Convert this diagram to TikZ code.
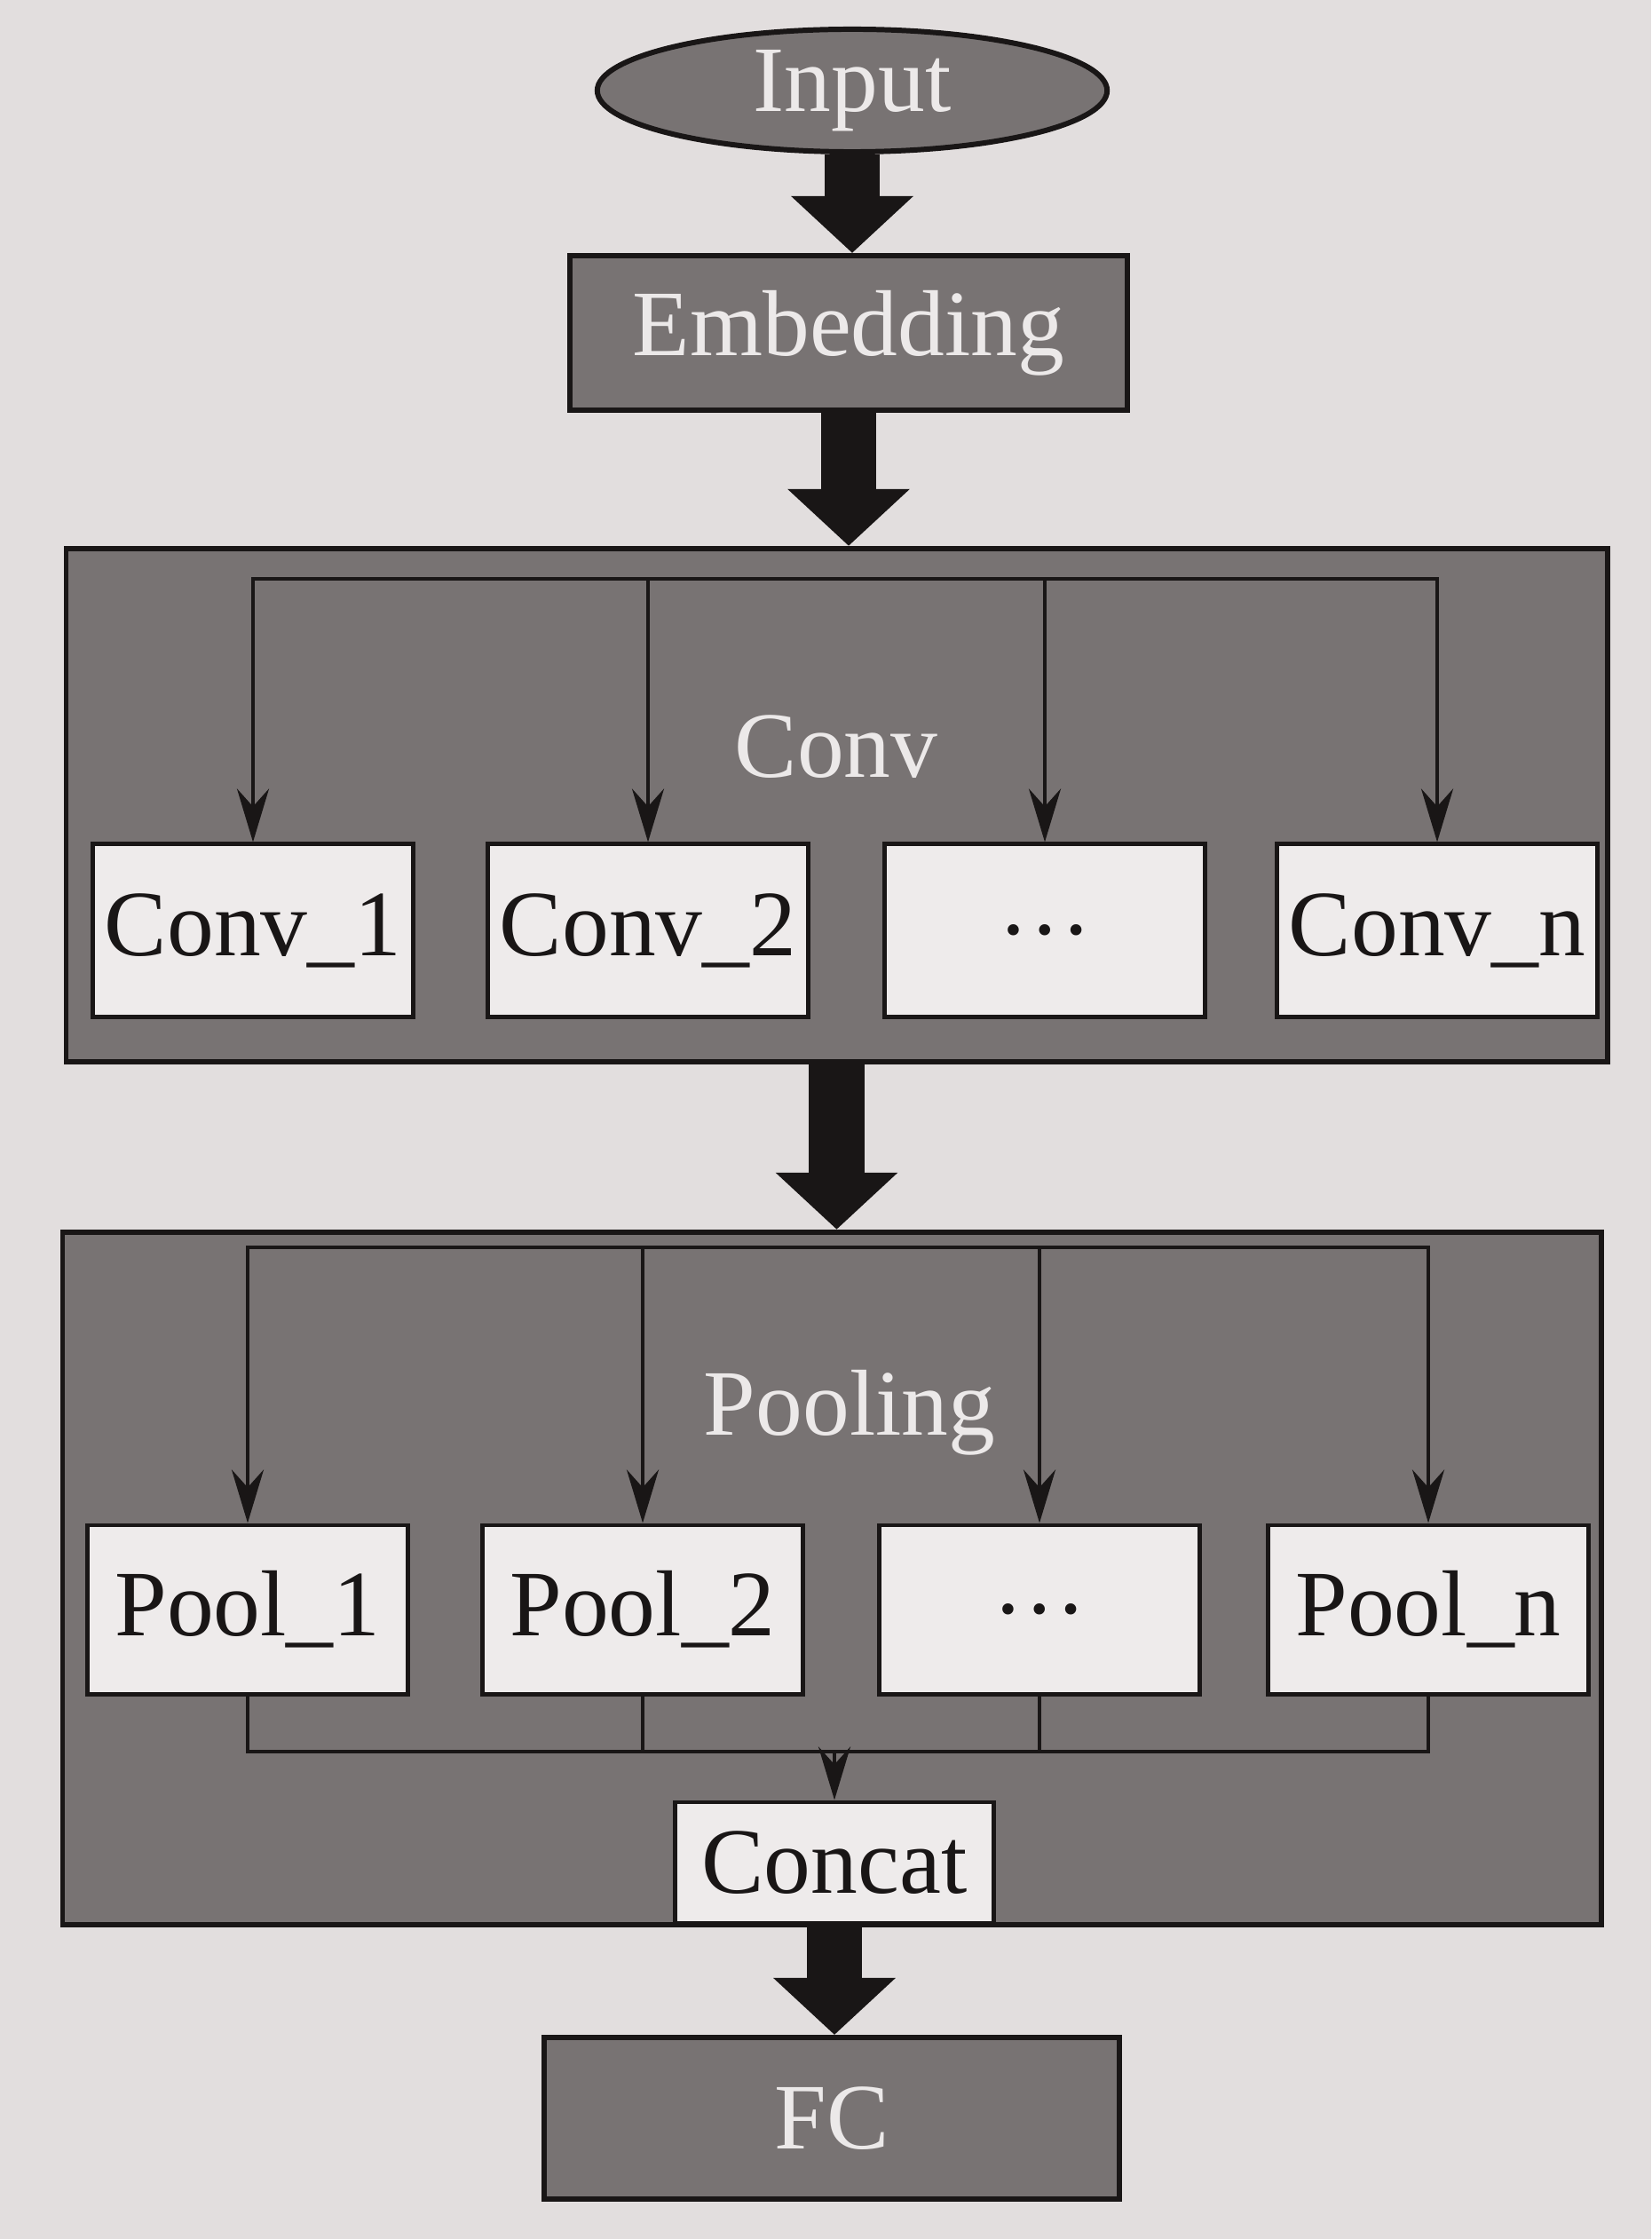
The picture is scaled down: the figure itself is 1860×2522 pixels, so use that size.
\documentclass[tikz,border=0pt]{standalone}
\usepackage{fontspec}
\setmainfont{Liberation Serif}
\usetikzlibrary{arrows.meta,shapes.geometric}
\definecolor{paper}{RGB}{226,222,222}
\definecolor{darkfill}{RGB}{120,115,115}
\definecolor{lightbox}{RGB}{238,235,235}
\definecolor{ink}{RGB}{25,22,22}
\definecolor{paletext}{RGB}{236,233,233}
\begin{document}
\begin{tikzpicture}[x=0.01cm,y=-0.01cm,
  font=\fontsize{30}{36}\selectfont,
  darkbox/.style={draw=ink, line width=1.7pt, fill=darkfill, text=paletext, rectangle, inner sep=0pt},
  lightnode/.style={draw=ink, line width=1.4pt, fill=lightbox, text=ink, rectangle, inner sep=0pt, minimum width=3.6cm, minimum height=1.94cm},
  biglabel/.style={text=paletext, anchor=base, inner sep=0pt},
  bigarrow/.style={line width=0.62cm, draw=ink, -{Triangle[length=0.64cm,width=1.34cm]}},
  thinarrow/.style={line width=1.2pt, draw=ink, line cap=rect, -{Stealth[length=0.6cm,width=0.36cm,inset=0.2cm]}},
  thinline/.style={line width=1.2pt, draw=ink, line cap=rect},
]
\fill[paper] (0,0) rectangle (1860,2522);
\useasboundingbox (0,0) rectangle (1860,2522);

% main column
\node[darkbox, ellipse, minimum width=5.74cm, minimum height=1.38cm] (input) at (960,102) {Input};
\node[darkbox, minimum width=6.28cm, minimum height=1.74cm] (embed) at (956,375) {Embedding};
\node[darkbox, minimum width=17.35cm, minimum height=5.78cm] (conv) at (942.5,907) {};
\node[darkbox, minimum width=17.32cm, minimum height=7.80cm] (pool) at (937,1778) {};
\node[darkbox, minimum width=6.48cm, minimum height=1.82cm] (fc) at (937,2386) {FC};

\node[biglabel] (convlabel) at (942,875) {Conv};
\node[biglabel] (poollabel) at (957,1616) {Pooling};

% conv branches
\node[lightnode] (c1) at (285,1048) {Conv\_1};
\node[lightnode] (c2) at (730,1048) {Conv\_2};
\node[lightnode] (c3) at (1177,1048) {…};
\node[lightnode] (cn) at (1619,1048) {Conv\_n};

% pool branches
\node[lightnode, minimum height=1.90cm] (p1) at (279,1813) {Pool\_1};
\node[lightnode, minimum height=1.90cm] (p2) at (724,1813) {Pool\_2};
\node[lightnode, minimum height=1.90cm] (p3) at (1171,1813) {…};
\node[lightnode, minimum height=1.90cm] (pn) at (1609,1813) {Pool\_n};

\node[lightnode, minimum width=3.59cm, minimum height=1.36cm] (concat) at (940,2098) {Concat};

% big arrows
\draw[bigarrow] (input.south) -- (input.south |- embed.north);
\draw[bigarrow] (embed.south) -- (embed.south |- conv.north);
\draw[bigarrow] (conv.south) -- (conv.south |- pool.north);
\draw[bigarrow] (concat.south) -- (concat.south |- fc.north);

% conv bus
\coordinate (convbus) at (0,652);
\draw[thinline] (c1.north |- convbus) -- (cn.north |- convbus);
\foreach \n in {c1,c2,c3,cn}{
  \draw[thinarrow] (\n.north |- convbus) -- (\n.north);
}

% pool bus
\coordinate (poolbus) at (0,1405);
\draw[thinline] (p1.north |- poolbus) -- (pn.north |- poolbus);
\foreach \n in {p1,p2,p3,pn}{
  \draw[thinarrow] (\n.north |- poolbus) -- (\n.north);
}

% merge to concat
\coordinate (mergebus) at (0,1973);
\draw[thinline] (p1.south) -- (p1.south |- mergebus) -- (pn.south |- mergebus) -- (pn.south);
\draw[thinline] (p2.south) -- (p2.south |- mergebus);
\draw[thinline] (p3.south) -- (p3.south |- mergebus);
\draw[thinarrow] (concat.north |- mergebus) -- (concat.north);
\end{tikzpicture}
\end{document}
